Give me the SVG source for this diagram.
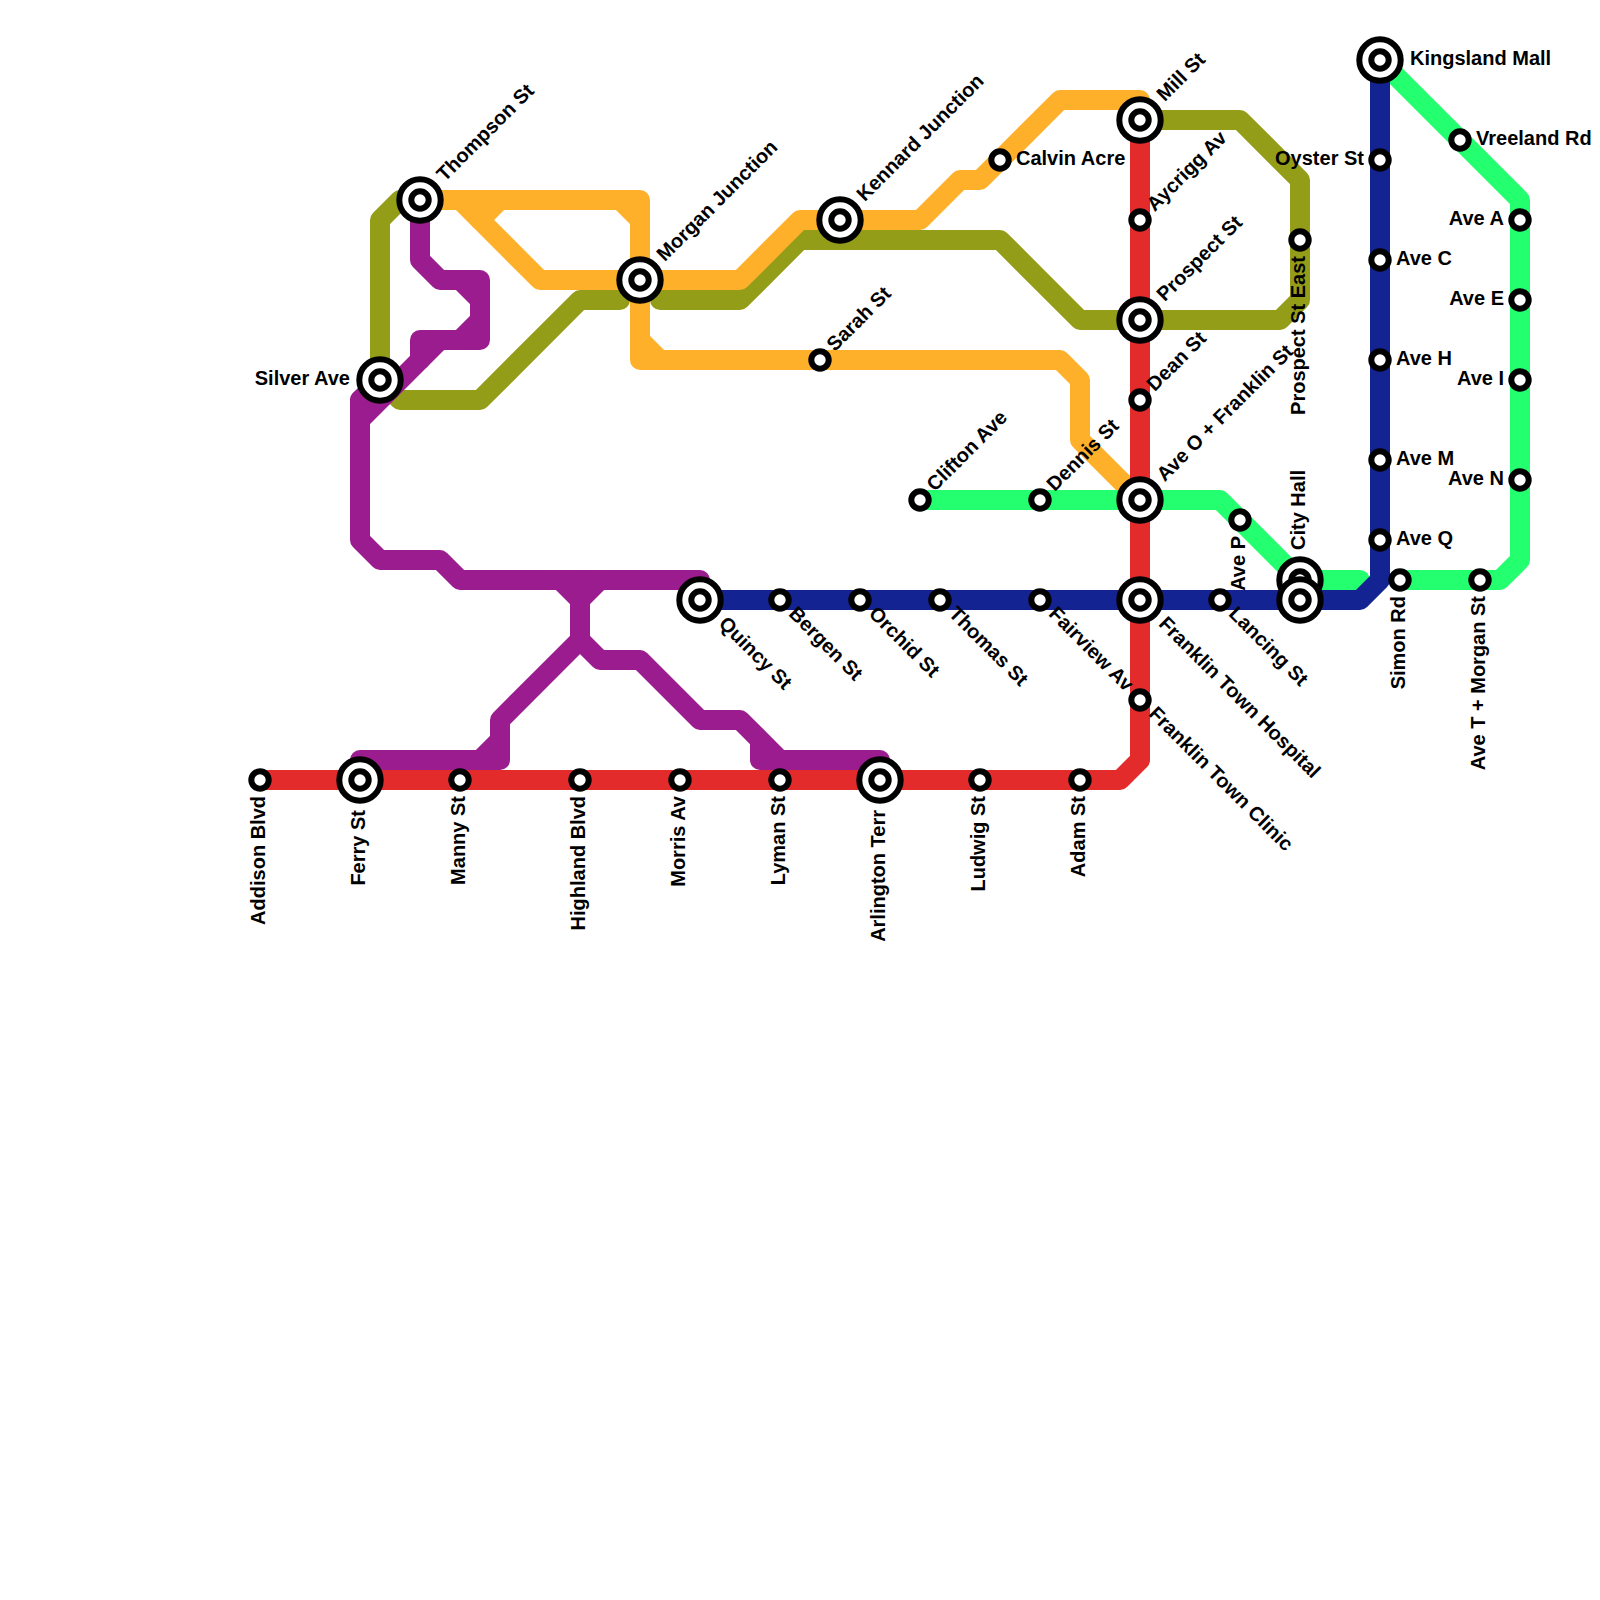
<svg xmlns="http://www.w3.org/2000/svg" width="1600" height="1600" viewBox="0 0 1600 1600">
<style>
.l{fill:none;stroke-width:20;stroke-linejoin:round;stroke-linecap:round}
.s{fill:#fff;stroke:#000;stroke-width:6}
text{font-family:"Liberation Sans",Arial,sans-serif;font-weight:700;font-size:20px;fill:#000;dominant-baseline:central}
.e{text-anchor:end}
</style>
<defs>
<g id="sm"><circle class="s" r="8.7"/></g>
<g id="lg"><circle class="s" r="20.7"/><circle class="s" r="8.7"/></g>
</defs>
<rect width="1600" height="1600" fill="#fff"/>
<g id="connectors">
<g stroke="#939d18" class="l">
<path class="l" d="M420 200H400L380 220V380L400 400H480L580 300H620"/>
<path class="l" d="M660 300H740L800 240H1000L1080 320H1280L1300 300V180L1240 120H1140"/>
</g>
<g stroke="#ffb02a">
<path class="l" d="M420 200H640V360H1060L1080 380V440L1140 500"/>
<path class="l" d="M460 200L540 280H740L800 220H920L960 180H980L1060 100H1140V120"/>
<path class="l" d="M480 220L500 200M620 200L640 220M640 340L660 360"/>
</g>
<path class="l" stroke="#e42b2b" d="M260 780H1120L1140 760V120"/>
<g stroke="#23ff6e">
<path class="l" d="M920 500H1220L1300 580H1360"/>
<path class="l" d="M1400 580H1500L1520 560V200L1380 60"/>
</g>
<path class="l" stroke="#132391" d="M700 600H1360L1380 580V60"/>
<g stroke="#9b1c8e">
<path class="l" d="M420 200V260L440 280H480V340H420V360"/>
<path class="l" d="M460 280L480 300M480 320L460 340M440 340L360 420M360 400L380 380"/>
<path class="l" d="M360 400V540L380 560H440L460 580H700V600"/>
<path class="l" d="M560 580L580 600L600 580M580 580V640L500 720V760H360M500 740L480 760"/>
<path class="l" d="M580 640L600 660H640L700 720H740L780 760H880M740 720L760 740V760H780"/>
</g>
</g>
<g id="n-addison"><use href="#sm" x="260" y="780"/><text class="e" transform="translate(260 780) rotate(-90)" x="-16" y="-2">Addison Blvd</text></g>
<g id="n-ferry"><use href="#lg" x="360" y="780"/><text class="e" transform="translate(360 780) rotate(-90)" x="-30" y="-2">Ferry St</text></g>
<g id="n-manny"><use href="#sm" x="460" y="780"/><text class="e" transform="translate(460 780) rotate(-90)" x="-16" y="-2">Manny St</text></g>
<g id="n-highland"><use href="#sm" x="580" y="780"/><text class="e" transform="translate(580 780) rotate(-90)" x="-16" y="-2">Highland Blvd</text></g>
<g id="n-morris"><use href="#sm" x="680" y="780"/><text class="e" transform="translate(680 780) rotate(-90)" x="-16" y="-2">Morris Av</text></g>
<g id="n-lyman"><use href="#sm" x="780" y="780"/><text class="e" transform="translate(780 780) rotate(-90)" x="-16" y="-2">Lyman St</text></g>
<g id="n-arlington"><use href="#lg" x="880" y="780"/><text class="e" transform="translate(880 780) rotate(-90)" x="-30" y="-2">Arlington Terr</text></g>
<g id="n-ludwig"><use href="#sm" x="980" y="780"/><text class="e" transform="translate(980 780) rotate(-90)" x="-16" y="-2">Ludwig St</text></g>
<g id="n-adam"><use href="#sm" x="1080" y="780"/><text class="e" transform="translate(1080 780) rotate(-90)" x="-16" y="-2">Adam St</text></g>
<g id="n-clinic"><use href="#sm" x="1140" y="700"/><text transform="translate(1140 700) rotate(45)" x="16" y="-2">Franklin Town Clinic</text></g>
<g id="n-hospital"><use href="#lg" x="1140" y="600"/><text transform="translate(1140 600) rotate(45)" x="30" y="-2">Franklin Town Hospital</text></g>
<g id="n-aveo"><use href="#lg" x="1140" y="500"/><text transform="translate(1140 500) rotate(-45)" x="30" y="-2">Ave O + Franklin St</text></g>
<g id="n-dean"><use href="#sm" x="1140" y="400"/><text transform="translate(1140 400) rotate(-45)" x="16" y="-2">Dean St</text></g>
<g id="n-prospect"><use href="#lg" x="1140" y="320"/><text transform="translate(1140 320) rotate(-45)" x="30" y="-2">Prospect St</text></g>
<g id="n-aycrigg"><use href="#sm" x="1140" y="220"/><text transform="translate(1140 220) rotate(-45)" x="16" y="-2">Aycrigg Av</text></g>
<g id="n-mill"><use href="#lg" x="1140" y="120"/><text transform="translate(1140 120) rotate(-45)" x="30" y="-2">Mill St</text></g>
<g id="n-thompson"><use href="#lg" x="420" y="200"/><text transform="translate(420 200) rotate(-45)" x="30" y="-2">Thompson St</text></g>
<g id="n-silver"><use href="#lg" x="380" y="380"/><text class="e" x="350" y="378">Silver Ave</text></g>
<g id="n-morgan"><use href="#lg" x="640" y="280"/><text transform="translate(640 280) rotate(-45)" x="30" y="-2">Morgan Junction</text></g>
<g id="n-kennard"><use href="#lg" x="840" y="220"/><text transform="translate(840 220) rotate(-45)" x="30" y="-2">Kennard Junction</text></g>
<g id="n-calvin"><use href="#sm" x="1000" y="160"/><text x="1016" y="158">Calvin Acre</text></g>
<g id="n-sarah"><use href="#sm" x="820" y="360"/><text transform="translate(820 360) rotate(-45)" x="16" y="-2">Sarah St</text></g>
<g id="n-clifton"><use href="#sm" x="920" y="500"/><text transform="translate(920 500) rotate(-45)" x="16" y="-2">Clifton Ave</text></g>
<g id="n-dennis"><use href="#sm" x="1040" y="500"/><text transform="translate(1040 500) rotate(-45)" x="16" y="-2">Dennis St</text></g>
<g id="n-quincy"><use href="#lg" x="700" y="600"/><text transform="translate(700 600) rotate(45)" x="30" y="-2">Quincy St</text></g>
<g id="n-bergen"><use href="#sm" x="780" y="600"/><text transform="translate(780 600) rotate(45)" x="16" y="-2">Bergen St</text></g>
<g id="n-orchid"><use href="#sm" x="860" y="600"/><text transform="translate(860 600) rotate(45)" x="16" y="-2">Orchid St</text></g>
<g id="n-thomas"><use href="#sm" x="940" y="600"/><text transform="translate(940 600) rotate(45)" x="16" y="-2">Thomas St</text></g>
<g id="n-fairview"><use href="#sm" x="1040" y="600"/><text transform="translate(1040 600) rotate(45)" x="16" y="-2">Fairview Av</text></g>
<g id="n-lancing"><use href="#sm" x="1220" y="600"/><text transform="translate(1220 600) rotate(45)" x="16" y="-2">Lancing St</text></g>
<g id="n-avep"><use href="#sm" x="1240" y="520"/><text class="e" transform="translate(1240 520) rotate(-90)" x="-16" y="-2">Ave P</text></g>
<g id="n-cityhall"><use href="#lg" x="1300" y="580"/><text transform="translate(1300 580) rotate(-90)" x="30" y="-2">City Hall</text></g>
<g id="n-transfer"><use href="#lg" x="1300" y="600"/></g>
<g id="n-prospecteast"><use href="#sm" x="1300" y="240"/><text class="e" transform="translate(1300 240) rotate(-90)" x="-16" y="-2">Prospect St East</text></g>
<g id="n-kingsland"><use href="#lg" x="1380" y="60"/><text x="1410" y="58">Kingsland Mall</text></g>
<g id="n-oyster"><use href="#sm" x="1380" y="160"/><text class="e" x="1364" y="158">Oyster St</text></g>
<g id="n-avec"><use href="#sm" x="1380" y="260"/><text x="1396" y="258">Ave C</text></g>
<g id="n-aveh"><use href="#sm" x="1380" y="360"/><text x="1396" y="358">Ave H</text></g>
<g id="n-avem"><use href="#sm" x="1380" y="460"/><text x="1396" y="458">Ave M</text></g>
<g id="n-aveq"><use href="#sm" x="1380" y="540"/><text x="1396" y="538">Ave Q</text></g>
<g id="n-simon"><use href="#sm" x="1400" y="580"/><text class="e" transform="translate(1400 580) rotate(-90)" x="-16" y="-2">Simon Rd</text></g>
<g id="n-avet"><use href="#sm" x="1480" y="580"/><text class="e" transform="translate(1480 580) rotate(-90)" x="-16" y="-2">Ave T + Morgan St</text></g>
<g id="n-vreeland"><use href="#sm" x="1460" y="140"/><text x="1476" y="138">Vreeland Rd</text></g>
<g id="n-avea"><use href="#sm" x="1520" y="220"/><text class="e" x="1504" y="218">Ave A</text></g>
<g id="n-avee"><use href="#sm" x="1520" y="300"/><text class="e" x="1504" y="298">Ave E</text></g>
<g id="n-avei"><use href="#sm" x="1520" y="380"/><text class="e" x="1504" y="378">Ave I</text></g>
<g id="n-aven"><use href="#sm" x="1520" y="480"/><text class="e" x="1504" y="478">Ave N</text></g>
</svg>
